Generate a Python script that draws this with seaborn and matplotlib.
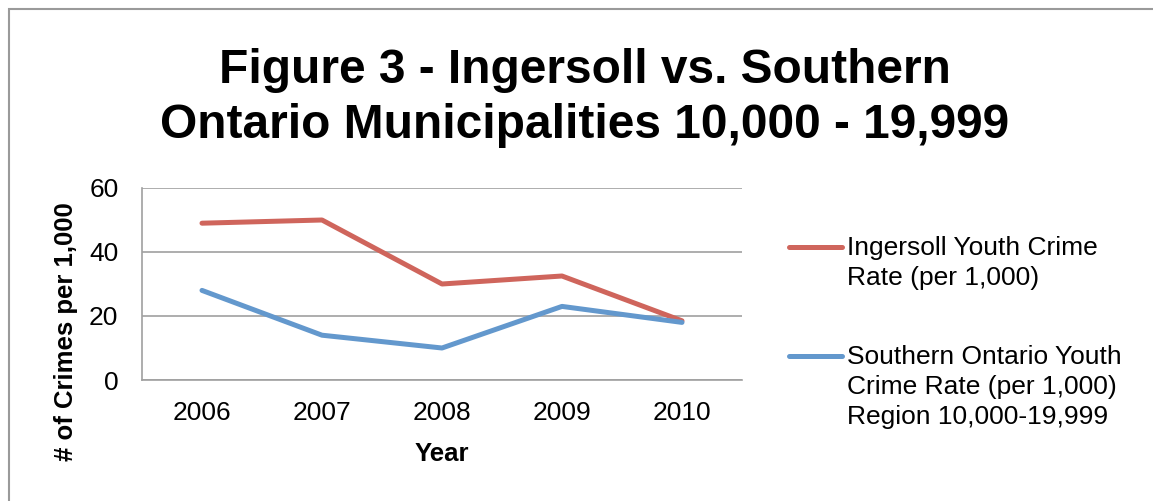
import matplotlib
matplotlib.use("Agg")
import matplotlib.pyplot as plt
from matplotlib.patches import Rectangle
import seaborn as sns
import pandas as pd

years = ["2006", "2007", "2008", "2009", "2010"]
ingersoll = [49, 50, 30, 32.5, 18.5]
southern = [28, 14, 10, 23, 18]
series_names = ["Ingersoll Youth Crime\nRate (per 1,000)",
                "Southern Ontario Youth\nCrime Rate (per 1,000)\nRegion 10,000-19,999"]
colors = ["#CF655C", "#6398CD"]
yticks = [0, 20, 40, 60]

sns.set_theme(style="white")
plt.rcParams["font.family"] = ["Liberation Sans", "DejaVu Sans"]
plt.rcParams["text.color"] = "black"
plt.rcParams["axes.labelcolor"] = "black"
plt.rcParams["xtick.color"] = "black"
plt.rcParams["ytick.color"] = "black"

df = pd.DataFrame({
    "Year": years * 2,
    "Rate": ingersoll + southern,
    "Series": [series_names[0]] * len(years) + [series_names[1]] * len(years),
})

fig = plt.figure(figsize=(11.53, 5.01), dpi=100)
ax = fig.add_axes([142 / 1153, 1 - 380 / 501, 600 / 1153, 192 / 501])

sns.lineplot(data=df, x="Year", y="Rate", hue="Series", palette=colors,
             linewidth=3.6, ax=ax, sort=False)
for ln in ax.get_lines():
    ln.set_solid_capstyle("round")
    ln.set_solid_joinstyle("round")

ax.set_xlim(-0.5, len(years) - 0.5)
ax.set_ylim(0, 60)
ax.set_yticks(yticks)
ax.yaxis.grid(True, color="#A0A0A0", linewidth=1.2)
ax.xaxis.grid(False)
for s in ["top", "right"]:
    ax.spines[s].set_visible(False)
for s in ["left", "bottom"]:
    ax.spines[s].set_color("#A0A0A0")
    ax.spines[s].set_linewidth(1.2)
ax.tick_params(axis="both", length=0, labelsize=19, labelcolor="black")
ax.tick_params(axis="x", pad=15)
ax.tick_params(axis="y", pad=17)

ax.set_xlabel("Year", fontsize=18.5, fontweight="bold", color="black")
ax.set_ylabel("# of Crimes per 1,000", fontsize=18.5, fontweight="bold", color="black")
ax.xaxis.set_label_coords(0.5, -0.325)
ax.yaxis.set_label_coords(-0.107, 0.25)

fig.suptitle("Figure 3 - Ingersoll vs. Southern\nOntario Municipalities 10,000 - 19,999",
             x=585 / 1153, y=1 - 48 / 501, fontsize=34.5, fontweight="bold",
             linespacing=1.3, va="top", color="black")

leg = ax.legend(loc="upper left", bbox_to_anchor=(789 / 1153, 1 - 236 / 501),
                bbox_transform=fig.transFigure, frameon=False, fontsize=19,
                handlelength=2.0, handletextpad=0.2, labelspacing=2.1,
                handleheight=1.1, borderpad=0, borderaxespad=0)
for lh in leg.get_lines():
    lh.set_linewidth(3.6)
    lh.set_solid_capstyle("round")
for t in leg.get_texts():
    t.set_linespacing(1.3)
    t.set_color("black")
try:
    for col in leg._legend_handle_box.get_children():
        for item in col.get_children():
            item.align = "top"
except Exception:
    pass

fig.patches.append(Rectangle((8.5 / 1153, -0.2), 1.5, 1.2 - 8.5 / 501,
                             transform=fig.transFigure, fill=False,
                             edgecolor="#9A9A9A", linewidth=1.5, zorder=-1))

fig.savefig("out.png", dpi=100)
